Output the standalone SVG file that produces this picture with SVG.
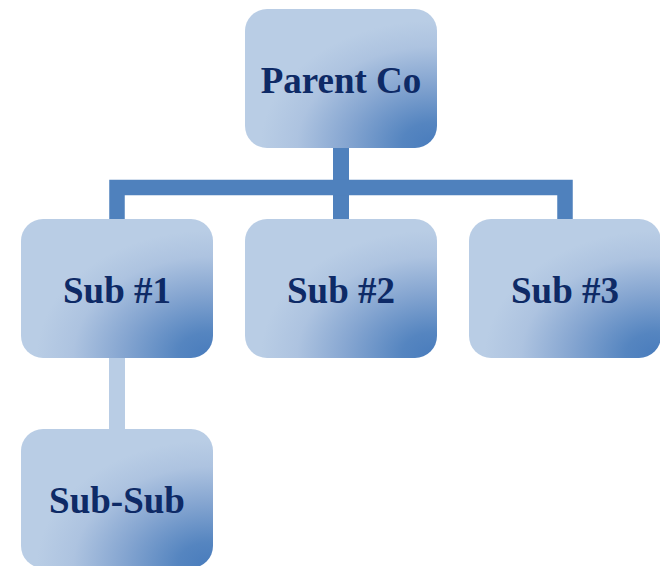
<svg xmlns="http://www.w3.org/2000/svg" width="660" height="566" viewBox="0 0 660 566">
<defs>
<radialGradient id="g" cx="1" cy="1" r="1.3" fx="0.97" fy="0.97">
<stop offset="0" stop-color="#4a7dbd"/>
<stop offset="0.12" stop-color="#5585c0"/>
<stop offset="0.35" stop-color="#86a6d1"/>
<stop offset="0.55" stop-color="#adc3e0"/>
<stop offset="0.7" stop-color="#b9cde5"/>
<stop offset="1" stop-color="#b9cde5"/>
</radialGradient>
<style>
.box{fill:url(#g);}
.lbl{font-family:"Liberation Serif","Times New Roman",serif;font-weight:bold;font-size:37px;fill:#0e2a66;text-anchor:middle;}
</style>
</defs>
<rect width="660" height="566" fill="#ffffff"/>
<g id="connectors">
<rect x="333" y="148" width="16" height="71" fill="#4f81bd"/>
<path d="M117 219 V187.5 H565 V219" fill="none" stroke="#4f81bd" stroke-width="15.5"/>
<rect x="109" y="357" width="16" height="73" fill="#b9cde5"/>
</g>
<g id="parent">
<rect class="box" x="245" y="9" width="192" height="139" rx="22"/>
<text class="lbl" x="341" y="92.5">Parent Co</text>
</g>
<g id="sub1">
<rect class="box" x="21" y="219" width="192" height="139" rx="22"/>
<text class="lbl" x="117" y="302.5">Sub #1</text>
</g>
<g id="sub2">
<rect class="box" x="245" y="219" width="192" height="139" rx="22"/>
<text class="lbl" x="341" y="302.5">Sub #2</text>
</g>
<g id="sub3">
<rect class="box" x="469" y="219" width="192" height="139" rx="22"/>
<text class="lbl" x="565" y="302.5">Sub #3</text>
</g>
<g id="subsub">
<rect class="box" x="21" y="429" width="192" height="139" rx="22"/>
<text class="lbl" x="117" y="512.5">Sub-Sub</text>
</g>
</svg>
